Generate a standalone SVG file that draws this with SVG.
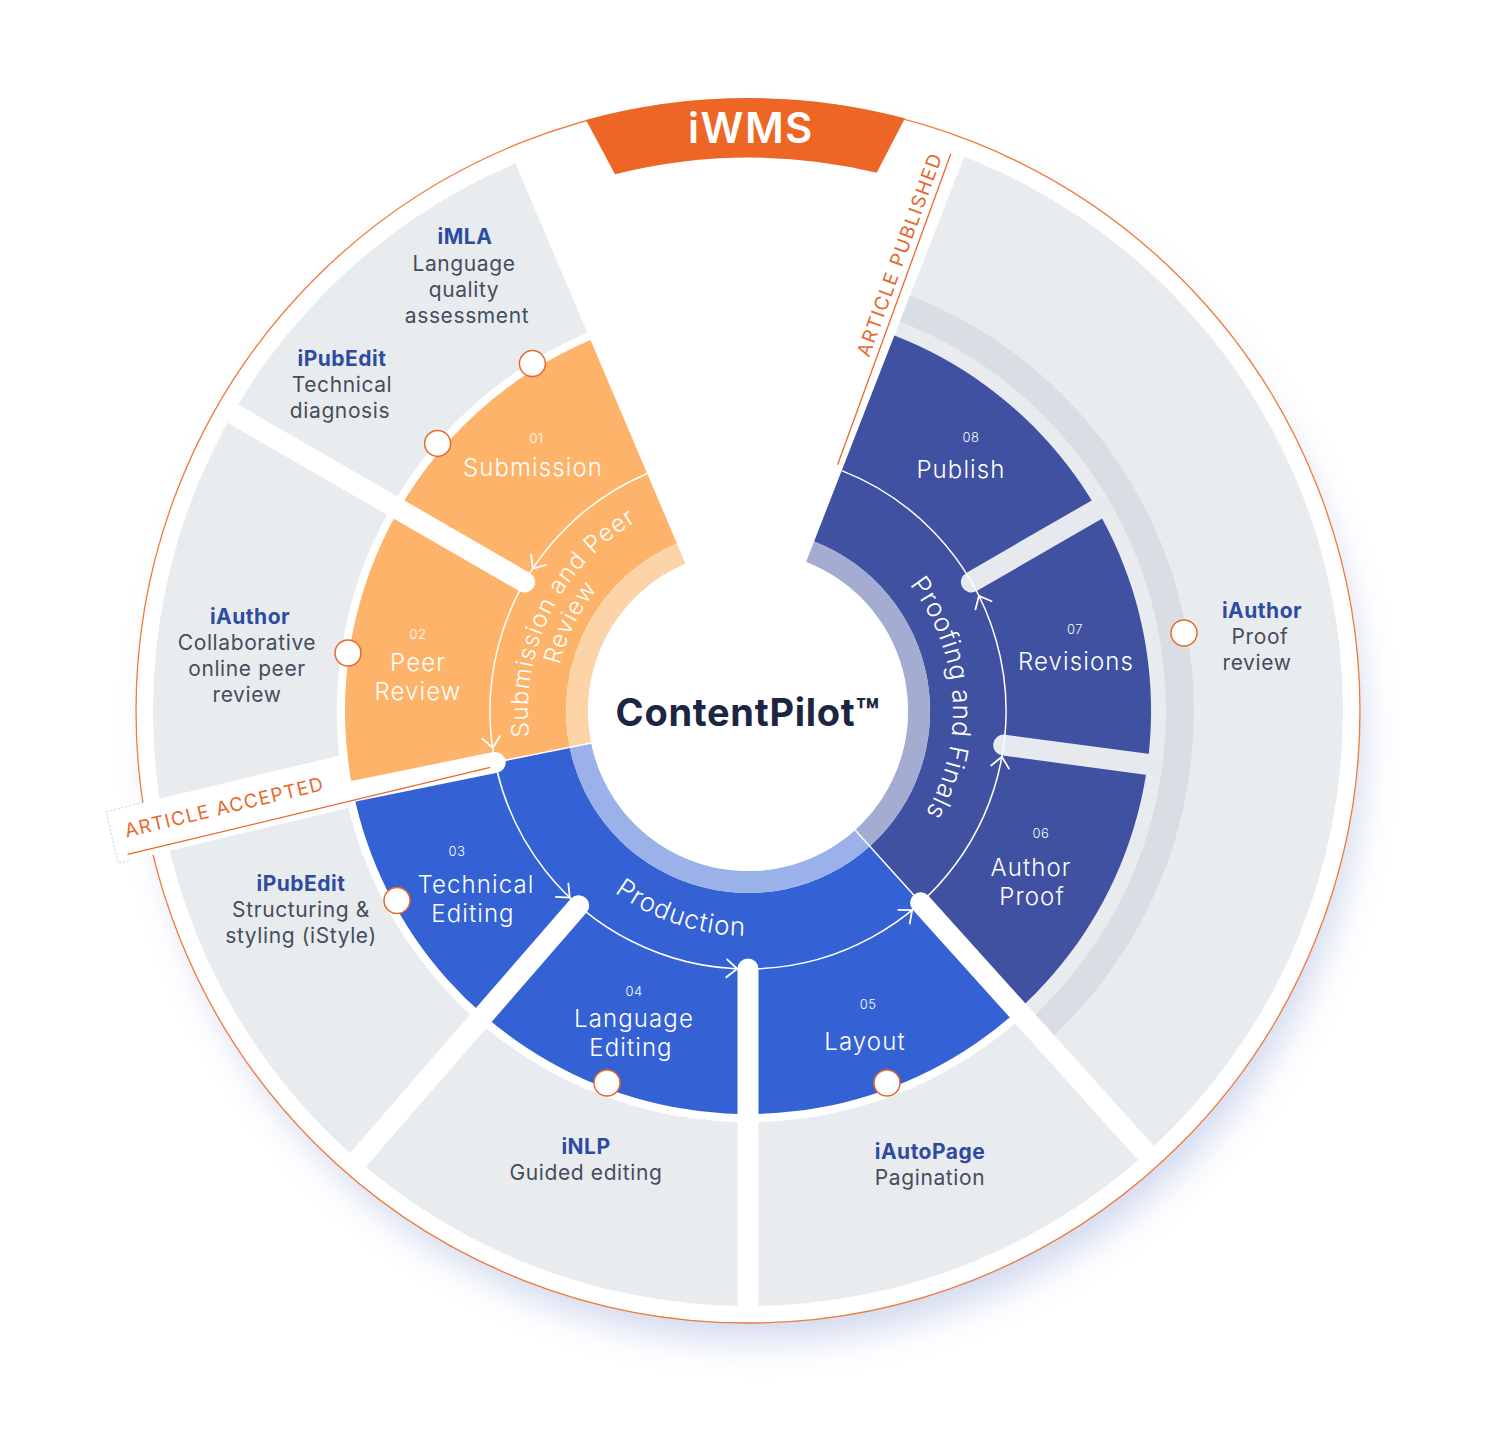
<svg xmlns="http://www.w3.org/2000/svg" xmlns:xlink="http://www.w3.org/1999/xlink" width="1500" height="1436" viewBox="0 0 1500 1436">
  <defs>
    <filter id="sh" x="-20%" y="-20%" width="140%" height="140%">
      <feGaussianBlur stdDeviation="18"/>
    </filter>
    <path id="chev" d="M 758.5 444 L 748 453 L 758.5 462" fill="none" stroke="#ffffff" stroke-width="1.8" stroke-linecap="round" stroke-linejoin="round"/>
    <path id="pSub1" d="M 546.2 798.7 A 220 220 0 0 1 696.6 497.1"/>
    <path id="pSub2" d="M 570.1 788.4 A 194 194 0 0 1 702.7 522.4"/>
    <path id="pProd" d="M 556.2 828.6 A 225 225 0 0 0 830.5 920.3"/>
    <path id="pProof" d="M 868.5 545.2 A 205 205 0 0 1 890.4 858.5"/>
    <style>
      text { font-family: Inter, "Open Sans", "Liberation Sans", sans-serif; }
      .tool { font-size: 21px; font-weight: 700; fill: #2d4b9f; text-anchor: middle; letter-spacing: 0.5px; }
      .desc { font-size: 21px; font-weight: 400; fill: #454c5c; text-anchor: middle; letter-spacing: 0.6px; }
      .num { font-size: 13px; font-weight: 300; fill: #ffffff; text-anchor: middle; letter-spacing: 0.5px; }
      .lbl { font-size: 24px; font-weight: 300; fill: #ffffff; text-anchor: middle; letter-spacing: 1.1px; }
      .phase { font-size: 25px; font-weight: 300; fill: #ffffff; letter-spacing: 1px; text-anchor: middle; }
      .milestone { font-size: 19px; font-weight: 400; fill: #e8692c; letter-spacing: 1.2px; }
      .node { fill: #ffffff; stroke: #e8692c; stroke-width: 1.5; }
      .div-w { stroke: #ffffff; stroke-width: 21; stroke-linecap: round; fill: none; }
      .div-g { stroke: #e6e9ee; stroke-width: 21; stroke-linecap: round; fill: none; }
      .thin { stroke: #ffffff; stroke-width: 1.5; fill: none; }
    </style>
  </defs>

  <!-- base disc -->
  <g id="base">
    <circle cx="758" cy="736" r="604" fill="#8ea3d8" opacity="0.42" filter="url(#sh)"/>
    <circle cx="748" cy="711" r="612" fill="#ffffff" stroke="#f07a3a" stroke-width="1.3"/>
    <circle cx="748" cy="711" r="595" fill="#e9ecef"/>
    <path d="M 748 711 L 515.1 162.4 A 596 596 0 0 1 964.5 155.7 Z" fill="#ffffff"/>
    <path d="M 910.0 295.5 A 446 446 0 0 1 1046.4 1042.4 L 1027.7 1021.6 A 418 418 0 0 0 899.8 321.6 Z" fill="#d9dee5"/>
  </g>

  <!-- ARTICLE ACCEPTED label box -->
  <g id="milestone-accepted-box" transform="translate(495.2 762.4) rotate(-13.5)">
    <rect x="-390" y="-43" width="390" height="53" fill="#ffffff"/>
    <polyline points="-352,-43 -390,-43 -390,10 -379,10" fill="none" stroke="#b9c8e6" stroke-width="0.8" stroke-dasharray="2 2"/>
  </g>

  <path id="white-ring" d="M 748 711 L 1023.0 1016.4 A 411 411 0 1 1 587.4 332.7 Z" fill="#ffffff"/>

  <!-- phase sectors -->
  <g id="phase-submission">
    <path d="M 353.1 791.3 A 403 403 0 0 1 590.5 340.0 L 676.9 543.5 A 182 182 0 0 0 569.7 747.3 Z" fill="#fdb46a"/>
    <path d="M 569.7 747.3 A 182 182 0 0 1 676.9 543.5 L 685.5 563.7 A 160 160 0 0 0 591.2 742.9 Z" fill="#fdd4a8"/>
  </g>
  <g id="phase-production">
    <path d="M 1017.7 1010.5 A 403 403 0 0 1 353.1 791.3 L 569.7 747.3 A 182 182 0 0 0 869.8 846.3 Z" fill="#3462d4"/>
    <path d="M 869.8 846.3 A 182 182 0 0 1 569.7 747.3 L 591.2 742.9 A 160 160 0 0 0 855.1 829.9 Z" fill="#9bb1ea"/>
  </g>
  <g id="phase-proofing">
    <path d="M 894.4 335.5 A 403 403 0 0 1 1017.7 1010.5 L 869.8 846.3 A 182 182 0 0 0 814.1 541.4 Z" fill="#3f51a0"/>
    <path d="M 814.1 541.4 A 182 182 0 0 1 869.8 846.3 L 855.1 829.9 A 160 160 0 0 0 806.1 561.9 Z" fill="#a5acd2"/>
  </g>

  <!-- dividers -->
  <g id="dividers">
    <line class="div-w" x1="524.6" y1="582" x2="230.1" y2="412"/>
    <line class="div-w" x1="495.2" y1="762.4" x2="336.4" y2="794.7"/>
    <line class="div-w" x1="578.7" y1="905.7" x2="355.7" y2="1162.3"/>
    <line class="div-w" x1="748" y1="969" x2="748" y2="1309"/>
    <line class="div-w" x1="920.6" y1="902.7" x2="1148.1" y2="1155.4"/>
    <line class="div-g" x1="1003.7" y1="745.1" x2="1152.4" y2="765"/>
    <line class="div-g" x1="971.4" y1="582" x2="1101.3" y2="507"/>
    <line class="thin" x1="591.2" y1="742.9" x2="503.0" y2="760.8"/>
    <line class="thin" x1="855.1" y1="829.9" x2="915.3" y2="896.8"/>
  </g>

  <circle id="center-disc" cx="748" cy="711" r="160" fill="#ffffff"/>

  <!-- iWMS banner -->
  <g id="iwms">
    <path d="M 586 120 A 612 612 0 0 1 905 118.3 L 876.7 172.7 A 553 553 0 0 0 615 174.3 Z" fill="#ee6625"/>
    <text x="751" y="143" style="font-size:42px;font-weight:600;fill:#ffffff;text-anchor:middle;letter-spacing:1.5px">iWMS</text>
  </g>

  <!-- connectors -->
  <g id="connectors">
    <path d="M 647.2 473.5 A 258 258 0 1 0 841.7 470.6" fill="none" stroke="#ffffff" stroke-width="1.5"/>
    <use xlink:href="#chev" transform="rotate(-56.5 748 711)"/>
    <use xlink:href="#chev" transform="rotate(-98.2 748 711)"/>
    <use xlink:href="#chev" transform="rotate(-136.3 748 711)"/>
    <use xlink:href="#chev" transform="rotate(-177.6 748 711)"/>
    <use xlink:href="#chev" transform="rotate(140.5 748 711)"/>
    <use xlink:href="#chev" transform="rotate(100.2 748 711)"/>
    <use xlink:href="#chev" transform="rotate(63.5 748 711)"/>
  </g>

  <!-- milestones -->
  <g id="milestone-accepted" transform="translate(495.2 762.4) rotate(-13.5)">
    <line x1="-379" y1="3.7" x2="-6" y2="3.7" stroke="#e8692c" stroke-width="1.3"/>
    <text class="milestone" x="-376" y="-13">ARTICLE ACCEPTED</text>
  </g>
  <g id="milestone-published">
    <line x1="837.6" y1="464.8" x2="950.8" y2="153.8" stroke="#e8692c" stroke-width="1.3"/>
    <text class="milestone" transform="translate(837.6 464.8) rotate(-70)" x="111" y="-7" style="letter-spacing:1.5px">ARTICLE PUBLISHED</text>
  </g>

  <!-- phase labels -->
  <g id="label-submission-peer">
    <text class="phase" style="font-size:24px"><textPath xlink:href="#pSub1" startOffset="50%" text-anchor="middle">Submission and Peer</textPath><textPath xlink:href="#pSub2" startOffset="50%" text-anchor="middle">Review</textPath></text>
  </g>
  <g id="label-production">
    <text class="phase" style="font-size:26px"><textPath xlink:href="#pProd" startOffset="50%" text-anchor="middle">Production</textPath></text>
  </g>
  <g id="label-proofing">
    <text class="phase" style="font-size:26px;letter-spacing:0.6px"><textPath xlink:href="#pProof" startOffset="50%" text-anchor="middle">Proofing and Finals</textPath></text>
  </g>

  <!-- steps -->
  <g id="step-01"><text class="num" x="536.5" y="443">01</text><text class="lbl" x="533" y="476">Submission</text></g>
  <g id="step-02"><text class="num" x="418" y="639">02</text><text class="lbl" x="418" y="671">Peer</text><text class="lbl" x="418" y="700">Review</text></g>
  <g id="step-03"><text class="num" x="457" y="856">03</text><text class="lbl" x="476" y="893">Technical</text><text class="lbl" x="473" y="922">Editing</text></g>
  <g id="step-04"><text class="num" x="634" y="996">04</text><text class="lbl" x="634" y="1027">Language</text><text class="lbl" x="631" y="1056">Editing</text></g>
  <g id="step-05"><text class="num" x="868" y="1009">05</text><text class="lbl" x="865" y="1050">Layout</text></g>
  <g id="step-06"><text class="num" x="1041" y="838">06</text><text class="lbl" x="1031" y="876">Author</text><text class="lbl" x="1032" y="905">Proof</text></g>
  <g id="step-07"><text class="num" x="1075" y="634">07</text><text class="lbl" x="1076" y="670">Revisions</text></g>
  <g id="step-08"><text class="num" x="971" y="442">08</text><text class="lbl" x="961" y="478">Publish</text></g>

  <!-- tools -->
  <g id="tool-imla">
    <circle class="node" cx="532.4" cy="363.6" r="13"/>
    <text class="tool" x="465" y="244">iMLA</text>
    <text class="desc" x="464" y="270.5">Language</text>
    <text class="desc" x="464" y="296.5">quality</text>
    <text class="desc" x="467" y="322.5">assessment</text>
  </g>
  <g id="tool-ipubedit-diagnosis">
    <circle class="node" cx="437.6" cy="443.4" r="13"/>
    <text class="tool" x="342" y="366">iPubEdit</text>
    <text class="desc" x="342" y="392">Technical</text>
    <text class="desc" x="340" y="418">diagnosis</text>
  </g>
  <g id="tool-iauthor-peer">
    <circle class="node" cx="348" cy="653" r="13"/>
    <text class="tool" x="250" y="624">iAuthor</text>
    <text class="desc" x="247" y="650">Collaborative</text>
    <text class="desc" x="247" y="676">online peer</text>
    <text class="desc" x="247" y="702">review</text>
  </g>
  <g id="tool-ipubedit-structuring">
    <circle class="node" cx="397" cy="900.5" r="13"/>
    <text class="tool" x="301" y="891">iPubEdit</text>
    <text class="desc" x="301" y="917">Structuring &amp;</text>
    <text class="desc" x="301" y="943">styling (iStyle)</text>
  </g>
  <g id="tool-inlp">
    <circle class="node" cx="607" cy="1083" r="13"/>
    <text class="tool" x="586" y="1154">iNLP</text>
    <text class="desc" x="586" y="1180">Guided editing</text>
  </g>
  <g id="tool-iautopage">
    <circle class="node" cx="887" cy="1083" r="13"/>
    <text class="tool" x="930" y="1159">iAutoPage</text>
    <text class="desc" x="930" y="1185">Pagination</text>
  </g>
  <g id="tool-iauthor-proof">
    <circle class="node" cx="1184" cy="633" r="13"/>
    <text class="tool" x="1262" y="618">iAuthor</text>
    <text class="desc" x="1260" y="644">Proof</text>
    <text class="desc" x="1257" y="670">review</text>
  </g>

  <g id="center-title">
    <text x="748" y="726" style="font-size:38px;font-weight:700;fill:#1c2541;text-anchor:middle;letter-spacing:0.7px">ContentPilot™</text>
  </g>
</svg>
